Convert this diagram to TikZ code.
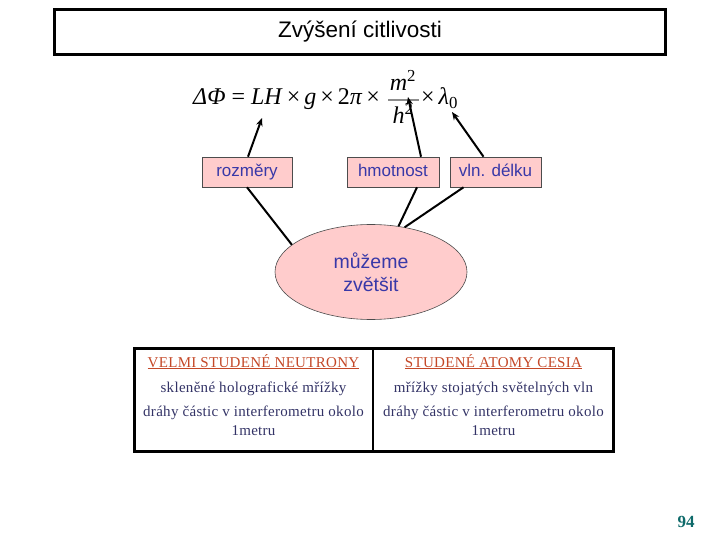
\documentclass[tikz,border=0pt]{standalone}
\usepackage{fontspec}
\setmainfont{Liberation Serif}
\newfontfamily\arialf{Liberation Sans}
\usetikzlibrary{shapes.geometric,arrows.meta,calc}
\definecolor{boxpink}{RGB}{255,204,204}
\definecolor{boxtxt}{RGB}{56,56,168}
\definecolor{headred}{RGB}{196,72,40}
\definecolor{bodytxt}{RGB}{51,51,102}
\definecolor{pagenum}{RGB}{14,106,106}
\begin{document}
\begin{tikzpicture}[x=1pt,y=-1pt,
  lbl/.style={draw=black!70,line width=0.6pt,fill=boxpink,text=boxtxt,font=\arialf\fontsize{17}{19}\selectfont,inner sep=0pt,text height=12.5pt,text depth=3.5pt,minimum height=30pt},
  arr/.style={line width=2pt,-{Stealth[length=8pt,width=6.5pt]}},
  conn/.style={line width=2pt},
  cell/.style={font=\addfontfeature{LetterSpace=2}\fontsize{15}{18}\selectfont,text=bodytxt,anchor=base},
  head/.style={font=\addfontfeature{LetterSpace=2}\fontsize{15}{18}\selectfont,text=headred,anchor=base}]
\useasboundingbox (0,0) rectangle (720,540);
% title
\draw[line width=3pt] (54.5,9.5) rectangle (665.5,54.5);
\node[font=\arialf\fontsize{22.5}{26}\selectfont] (title) at (360,32) {Zvýšení citlivosti};
% formula
\node[anchor=base west,inner sep=0pt,font=\fontsize{24}{28}\selectfont] (f1) at (193,105) {\textit{ΔΦ} = \textit{LH}\,×\,\textit{g}\,×\,2\textit{π}\,×};
\node[anchor=base,inner sep=0pt,font=\fontsize{24}{28}\selectfont] (fm) at (403,91) {\textit{m}\textsuperscript{2}};
\node[anchor=base,inner sep=0pt,font=\fontsize{24}{28}\selectfont] (fh) at (403,124) {\textit{h}\textsuperscript{2}};
\draw[black!45,line width=1.6pt] (388,100) -- (419,100);
\node[anchor=base west,inner sep=0pt,font=\fontsize{24}{28}\selectfont] (f2) at (421,105) {×\,\textit{λ}\textsubscript{0}};
\coordinate (tLH) at (262,118);
\coordinate (tm) at (408,97);
\coordinate (tl) at (452,112);
% boxes
\node[lbl,minimum width=90pt] (roz) at (247,172) {rozměry};
\node[lbl,minimum width=92pt] (hm) at (393,172) {hmotnost};
\node[lbl,minimum width=91pt] (vln) at (495.5,172) {vln. délku};
% ellipse
\node[ellipse,draw=black!70,line width=0.6pt,fill=boxpink,text=boxtxt,minimum width=192pt,minimum height=95pt,inner sep=0pt,align=center,font=\arialf\fontsize{19.5}{23}\selectfont] (el) at (371,272) {můžeme\\zvětšit};
% arrows
\draw[arr] ($(roz.north)+(1,0)$) -- (tLH);
\draw[arr] ($(hm.north)+(28,0)$) -- (tm);
\draw[arr] ($(vln.north)+(-12,0)$) -- (tl);
% connectors to ellipse
\draw[conn] (roz.south) -- (el.161);
\draw[conn] ($(hm.south)+(24,0)$) -- (el.59);
\draw[conn] ($(vln.south)+(-32,0)$) -- (el.53);
% table
\draw[line width=2.5pt] (134.5,348.5) rectangle (613.5,451.5);
\draw[line width=2.5pt] (373,348.5) -- (373,451.5);
\node[head] (h1) at (253.5,367) {\underline{VELMI STUDENÉ NEUTRONY}};
\node[cell] (a1) at (253.5,392) {skleněné holografické mřížky};
\node[cell] (a2) at (253.5,416) {dráhy částic v interferometru okolo};
\node[cell] (a3) at (253.5,435) {1metru};
\node[head] (h2) at (493.5,367) {\underline{STUDENÉ ATOMY CESIA}};
\node[cell] (b1) at (493.5,392) {mřížky stojatých světelných vln};
\node[cell] (b2) at (493.5,416) {dráhy částic v interferometru okolo};
\node[cell] (b3) at (493.5,435) {1metru};
% page number
\node[font=\bfseries\fontsize{17}{20}\selectfont,text=pagenum] (pg) at (686,522) {94};
\end{tikzpicture}
\end{document}
